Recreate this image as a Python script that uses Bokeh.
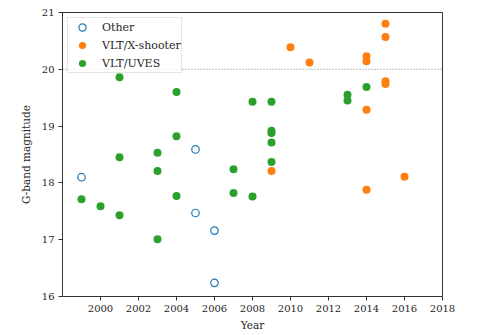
from bokeh.plotting import figure
from bokeh.models import ColumnDataSource, Span, FixedTicker
from bokeh.embed import file_html
from bokeh.resources import INLINE

# Data
other_year = [1999, 2005, 2005, 2006, 2006]
other_g = [18.10, 18.59, 17.47, 17.16, 16.24]

xsh_year = [2009, 2010, 2011, 2014, 2014, 2014, 2014, 2015, 2015, 2015, 2015, 2016]
xsh_g = [18.21, 20.39, 20.12, 20.23, 20.14, 19.29, 17.88, 20.80, 20.57, 19.79, 19.74, 18.11]

uves_year = [1999, 2000, 2001, 2001, 2001, 2003, 2003, 2003, 2004, 2004, 2004,
             2007, 2007, 2008, 2008, 2009, 2009, 2009, 2009, 2009, 2013, 2013, 2014]
uves_g = [17.71, 17.59, 17.43, 18.45, 19.86, 17.01, 18.21, 18.53, 17.77, 18.82, 19.60,
          18.24, 17.82, 17.76, 19.43, 19.43, 18.92, 18.88, 18.71, 18.37, 19.55, 19.45, 19.69]

x_ticks = list(range(2000, 2019, 2))
y_ticks = [16, 17, 18, 19, 20, 21]
threshold = 20.0

FONT = "DejaVu Serif"
TXT = "#262626"

p = figure(frame_width=380, frame_height=284,
           min_border_left=62, min_border_top=12, min_border_right=41, min_border_bottom=37,
           x_range=(1998, 2018), y_range=(16, 21),
           output_backend="svg", toolbar_location=None,
           background_fill_color="white", border_fill_color="white")

p.xgrid.visible = False
p.ygrid.visible = False
p.outline_line_color = "#333333"
p.outline_line_width = 1

p.add_layout(Span(location=threshold, dimension="width", line_color="#808080",
                  line_dash="1 2", line_width=1))

s_o = ColumnDataSource(dict(x=other_year, y=other_g))
s_x = ColumnDataSource(dict(x=xsh_year, y=xsh_g))
s_u = ColumnDataSource(dict(x=uves_year, y=uves_g))

p.scatter("x", "y", source=s_o, size=7.5, fill_color=None, line_color="#1f77b4",
          line_width=1.2, legend_label="Other")
p.scatter("x", "y", source=s_x, size=8, fill_color="#ff7f0e", line_color=None,
          legend_label="VLT/X-shooter")
p.scatter("x", "y", source=s_u, size=8, fill_color="#2ca02c", line_color=None,
          legend_label="VLT/UVES")

for ax in (p.xaxis[0], p.yaxis[0]):
    ax.axis_line_color = "#333333"
    ax.major_tick_line_color = "#333333"
    ax.major_tick_in = 0
    ax.major_tick_out = 4
    ax.minor_tick_line_color = None
    ax.major_label_text_font = FONT
    ax.major_label_text_font_size = "10px"
    ax.major_label_text_color = TXT
    ax.axis_label_text_font = FONT
    ax.axis_label_text_font_size = "10.5px"
    ax.axis_label_text_font_style = "normal"
    ax.axis_label_text_color = TXT
    ax.major_label_standoff = 4

p.xaxis.ticker = FixedTicker(ticks=x_ticks)
p.yaxis.ticker = FixedTicker(ticks=y_ticks)
p.xaxis.axis_label = "Year"
p.yaxis.axis_label = "G-band magnitude"
p.xaxis.axis_label_standoff = 4
p.yaxis.axis_label_standoff = 7

lg = p.legend[0]
lg.location = "top_left"
lg.margin = 5
lg.padding = 0
lg.spacing = -2
lg.glyph_width = 28
lg.glyph_height = 18
lg.label_height = 18
lg.label_standoff = 6
lg.label_text_font = FONT
lg.label_text_font_size = "11px"
lg.label_text_color = TXT
lg.border_line_color = "#cccccc"
lg.border_line_width = 1
lg.background_fill_color = "white"
lg.background_fill_alpha = 0.8

open("out.html", "w").write(file_html(p, INLINE))
